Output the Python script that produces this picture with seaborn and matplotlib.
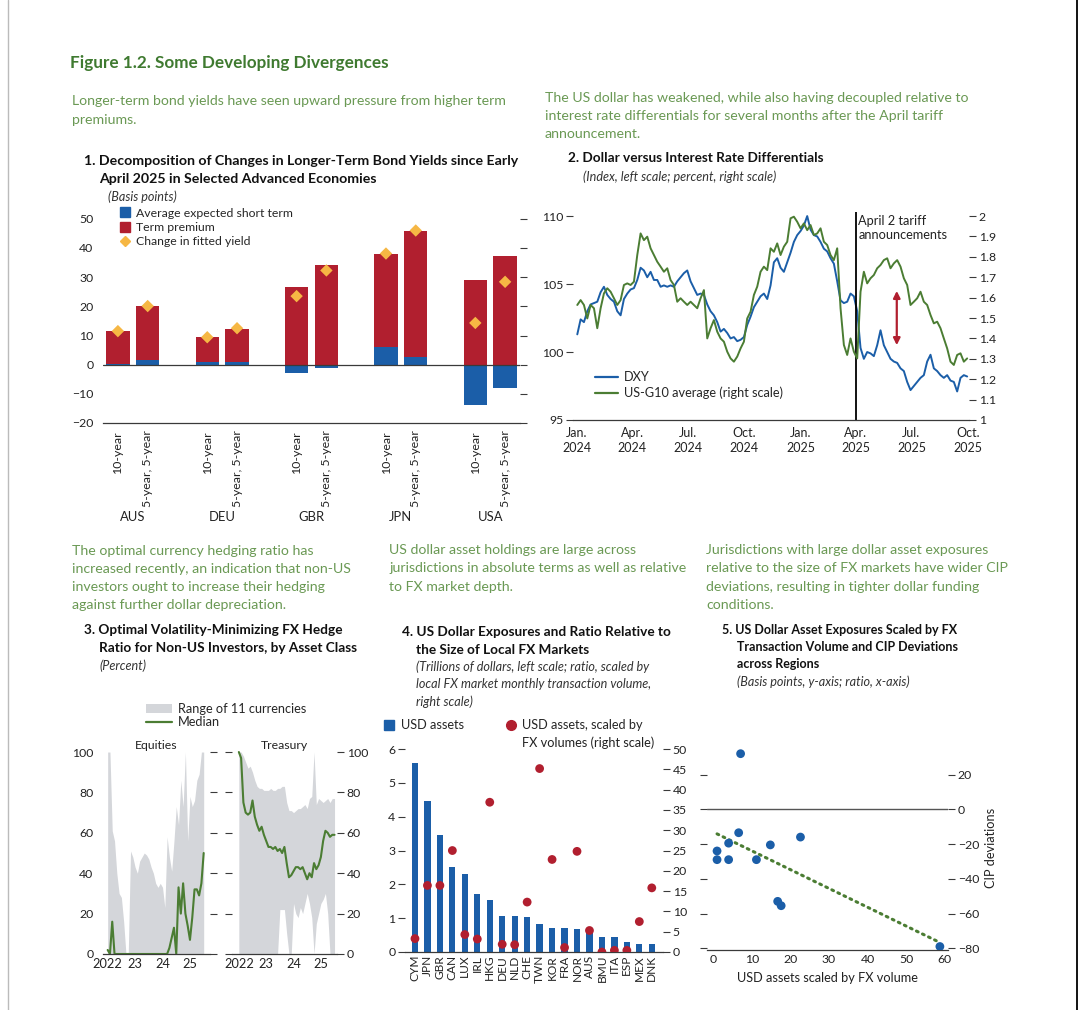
import numpy as np
import pandas as pd
import matplotlib
matplotlib.use('Agg')
import matplotlib.pyplot as plt
import seaborn as sns
from matplotlib.lines import Line2D
from matplotlib.patches import Patch

sns.set_theme(style='white')
FONT = ['Lato', 'DejaVu Sans']
plt.rcParams['font.family'] = FONT
plt.rcParams['axes.unicode_minus'] = True

# ---------------- DATA ----------------
# Panel 1
p1_groups = ['AUS', 'DEU', 'GBR', 'JPN', 'USA']
p1_maturities = ['10-year', '5-year, 5-year']
p1_short = [0.3, 1.5, 0.8, 0.8, -2.9, -1.2, 5.9, 2.6, -13.7, -8.1]
p1_term = [11.2, 18.7, 8.7, 11.5, 26.6, 34.1, 32.2, 43.4, 29.0, 37.4]
p1_fitted = [11.5, 20.1, 9.4, 12.5, 23.5, 32.3, 38.1, 46.0, 14.3, 28.4]

# Panel 2 (sampled evenly from 2 Jan 2024 to 30 Sep 2025)
p2_dxy = [101.3, 102.4, 102.2, 103.0, 103.5, 103.6, 103.7, 104.4, 104.8, 104.2,
          103.9, 103.7, 103.0, 102.7, 103.9, 104.3, 104.6, 104.7, 105.3, 106.2,
          106.0, 105.5, 105.9, 105.3, 105.3, 104.8, 104.9, 104.8, 104.9, 104.8,
          105.2, 105.5, 105.8, 106.0, 105.2, 104.7, 104.2, 104.3, 104.2, 103.5,
          103.0, 102.7, 102.2, 101.5, 101.7, 101.4, 101.0, 101.1, 100.8, 100.9,
          101.1, 102.0, 102.6, 103.3, 103.7, 104.1, 104.3, 103.9, 104.9,
          106.6, 106.9, 106.2, 105.9, 106.6, 107.3, 108.1, 108.6, 108.9, 109.3,
          110.0, 109.0, 108.6, 108.5, 108.1, 107.6, 107.4, 106.9, 106.5, 105.2,
          103.8, 103.6, 103.7, 104.3, 104.1, 103.0, 100.3, 99.5, 100.0, 99.9,
          99.7, 100.5, 101.6, 100.5, 100.0, 99.5, 99.3, 99.2, 98.8, 98.6,
          97.8, 97.2, 97.5, 97.8, 98.1, 98.3, 99.3, 99.8, 98.8, 98.6,
          98.3, 98.1, 98.3, 97.9, 97.8, 97.1, 98.1, 98.3, 98.2]
p2_g10 = [1.564, 1.588, 1.564, 1.498, 1.564, 1.548, 1.450, 1.548, 1.621, 1.646,
          1.629, 1.597, 1.564, 1.588, 1.662, 1.670, 1.662, 1.678, 1.809, 1.915,
          1.882, 1.899, 1.842, 1.809, 1.776, 1.752, 1.727, 1.744, 1.686, 1.662,
          1.580, 1.597, 1.580, 1.564, 1.580, 1.564, 1.548, 1.597, 1.637, 1.400,
          1.450, 1.490, 1.433, 1.400, 1.384, 1.335, 1.302, 1.286, 1.311, 1.351,
          1.384, 1.498, 1.531, 1.613, 1.654, 1.727, 1.752, 1.735, 1.842,
          1.825, 1.866, 1.809, 1.850, 1.874, 1.989, 1.997, 1.972, 1.940, 1.964,
          1.931, 1.956, 1.907, 1.915, 1.940, 1.874, 1.858, 1.809, 1.784, 1.842,
          1.548, 1.368, 1.319, 1.400, 1.335, 1.302, 1.629, 1.727, 1.670, 1.695,
          1.711, 1.744, 1.760, 1.784, 1.793, 1.744, 1.768, 1.784, 1.752, 1.695,
          1.662, 1.564, 1.580, 1.597, 1.629, 1.580, 1.564, 1.515, 1.474, 1.482,
          1.450, 1.400, 1.351, 1.286, 1.270, 1.319, 1.327, 1.286, 1.302]
p2_xticks = ['2024-01-01', '2024-04-01', '2024-07-01', '2024-10-01',
             '2025-01-01', '2025-04-01', '2025-07-01', '2025-10-01']
p2_xlabels = ['Jan.\n2024', 'Apr.\n2024', 'Jul.\n2024', 'Oct.\n2024',
              'Jan.\n2025', 'Apr.\n2025', 'Jul.\n2025', 'Oct.\n2025']

# Panel 3 (monthly, Jan 2022 - Jul 2025)
p3_eq_upper = [100, 100, 61, 56, 40, 30, 28, 16, 0, 0, 51, 48, 43, 40, 46, 48, 50, 49,
               47, 43, 40, 35, 33, 35, 33, 23, 58, 48, 41, 56, 73, 64, 86, 73, 100,
               56, 78, 73, 76, 86, 89, 100, 100]
p3_eq_lower = [0] * 43
p3_eq_median = [2, 0, 16, 0, 0, 0, 0, 0, 0, 0, 0, 0, 0, 0, 0, 0, 0, 0, 0, 0, 0, 0, 0,
                0, 0, 0, 0, 3, 8, 13, 0, 33, 20, 35, 20, 14, 7, 18, 32, 32, 29, 35, 50]
p3_tr_upper = [100, 100, 98, 95, 92, 93, 90, 86, 83, 82, 82, 81, 81, 81, 82, 81, 81, 82,
               82, 83, 83, 75, 71, 71, 70, 71, 72, 72, 73, 74, 72, 77, 78, 100, 74,
               77, 76, 75, 76, 77, 75, 77, 77]
p3_tr_lower = [0, 0, 0, 0, 0, 0, 0, 0, 0, 0, 0, 0, 0, 0, 0, 0, 0, 0, 22, 22, 22, 10,
               0, 0, 25, 20, 18, 23, 20, 25, 30, 25, 18, 0, 15, 20, 25, 27, 30, 20,
               0, 0, 0]
p3_tr_median = [100, 97, 75, 70, 69, 70, 76, 68, 64, 61, 63, 59, 56, 53, 53, 52, 53, 51,
                52, 50, 53, 45, 38, 39, 41, 43, 43, 42, 43, 40, 37, 40, 38, 45, 42,
                44, 48, 56, 61, 60, 58, 59, 59]
p3_years = ['2022', '23', '24', '25']

# Panel 4
p4_countries = ['CYM', 'JPN', 'GBR', 'CAN', 'LUX', 'IRL', 'HKG', 'DEU', 'NLD', 'CHE',
                'TWN', 'KOR', 'FRA', 'NOR', 'AUS', 'BMU', 'ITA', 'ESP', 'MEX', 'DNK']
p4_usd_assets = [5.6, 4.46, 3.46, 2.5, 2.3, 1.72, 1.54, 1.07, 1.05, 1.03,
                 0.83, 0.71, 0.71, 0.68, 0.61, 0.44, 0.44, 0.30, 0.24, 0.24]
p4_scaled = [3.3, 16.4, 16.4, 25.0, 4.3, 3.2, 36.9, 1.9, 1.8, 12.3,
             45.2, 22.8, 1.1, 24.8, 5.3, 0.0, 0.4, 0.4, 7.5, 15.8]

# Panel 5
p5_x = [7.1, 1.0, 1.0, 4.0, 4.0, 6.6, 11.2, 14.8, 22.6, 16.7, 17.6, 58.7]
p5_y = [32, -24, -29, -19.5, -29, -13.5, -29, -20.5, -16, -53, -55.5, -79]

# ---------------- STYLE ----------------
BLUE = '#1b5ea8'
RED = '#b11f2f'
GOLD = '#f6b744'
GREEN = '#4b7d33'
GRAY = '#d4d6da'
AX = '#3a3a3a'
TITLEGREEN = '#3f7a30'
INTROGREEN = '#6a9954'
TS = 8.8       # tick / legend text
IS = 10.2      # intro text
BS = 9.8       # bold panel titles
ITS = 9.1      # italic units

W, H = 1090, 1010
fig = plt.figure(figsize=(W / 100, H / 100), dpi=100)


def ax_px(l, t, r, b):
    return fig.add_axes([l / W, 1 - b / H, (r - l) / W, (b - t) / H])


def T(x, y, s, **kw):
    kw.setdefault('va', 'center')
    kw.setdefault('ha', 'left')
    return fig.text(x / W, 1 - y / H, s, **kw)


def style(ax):
    for s in ['top', 'left', 'right']:
        ax.spines[s].set_visible(False)
    ax.spines['bottom'].set_color(AX)
    ax.spines['bottom'].set_linewidth(0.9)
    ax.set_facecolor('none')
    ax.tick_params(axis='y', direction='out', length=5, width=0.8, color=AX,
                   labelsize=TS, pad=2, labelcolor='#222')
    ax.tick_params(axis='x', direction='in', length=4, width=0.8, color=AX,
                   labelsize=TS, pad=3, labelcolor='#222')
    ax.grid(False)


# ---------------- TEXTS ----------------
T(70, 63, 'Figure 1.2. Some Developing Divergences', fontsize=12.3, fontweight='bold', color=TITLEGREEN)
T(72, 101, 'Longer-term bond yields have seen upward pressure from higher term', fontsize=IS, color=INTROGREEN)
T(72, 120, 'premiums.', fontsize=IS, color=INTROGREEN)
for i, s in enumerate(['The US dollar has weakened, while also having decoupled relative to',
                       'interest rate differentials for several months after the April tariff',
                       'announcement.']):
    T(545, 98 + 18 * i, s, fontsize=IS, color=INTROGREEN)
T(84, 161, '1. Decomposition of Changes in Longer-Term Bond Yields since Early', fontsize=10.2, fontweight='bold', color='#111')
T(99, 179, 'April 2025 in Selected Advanced Economies', fontsize=10.2, fontweight='bold', color='#111')
T(108, 197, '(Basis points)', fontsize=ITS, style='italic', color='#333')
T(568, 158, '2. Dollar versus Interest Rate Differentials', fontsize=BS, fontweight='bold', color='#111')
T(583, 177, '(Index, left scale; percent, right scale)', fontsize=ITS, style='italic', color='#333')

for i, s in enumerate(['The optimal currency hedging ratio has',
                       'increased recently, an indication that non-US',
                       'investors ought to increase their hedging',
                       'against further dollar depreciation.']):
    T(72, 551 + 18 * i, s, fontsize=IS, color=INTROGREEN)
T(84, 630, '3. Optimal Volatility-Minimizing FX Hedge', fontsize=BS, fontweight='bold', color='#111')
T(99, 648, 'Ratio for Non-US Investors, by Asset Class', fontsize=BS, fontweight='bold', color='#111')
T(99, 666, '(Percent)', fontsize=ITS, style='italic', color='#333')

for i, s in enumerate(['US dollar asset holdings are large across',
                       'jurisdictions in absolute terms as well as relative',
                       'to FX market depth.']):
    T(389, 550 + 18.5 * i, s, fontsize=IS, color=INTROGREEN)
T(402, 632, '4. US Dollar Exposures and Ratio Relative to', fontsize=BS, fontweight='bold', color='#111')
T(416, 650, 'the Size of Local FX Markets', fontsize=BS, fontweight='bold', color='#111')
for i, s in enumerate(['(Trillions of dollars, left scale; ratio, scaled by',
                       'local FX market monthly transaction volume,',
                       'right scale)']):
    T(416, 667 + 17.5 * i, s, fontsize=ITS, style='italic', color='#333')

for i, s in enumerate(['Jurisdictions with large dollar asset exposures',
                       'relative to the size of FX markets have wider CIP',
                       'deviations, resulting in tighter dollar funding',
                       'conditions.']):
    T(706, 550 + 18.3 * i, s, fontsize=IS, color=INTROGREEN)
T(722, 630, '5. US Dollar Asset Exposures Scaled by FX', fontsize=9.0, fontweight='bold', color='#111')
T(737, 647, 'Transaction Volume and CIP Deviations', fontsize=9.0, fontweight='bold', color='#111')
T(737, 664, 'across Regions', fontsize=9.0, fontweight='bold', color='#111')
T(737, 682, '(Basis points, y-axis; ratio, x-axis)', fontsize=ITS, style='italic', color='#333')

# page borders
fig.add_artist(Line2D([1077 / W, 1077 / W], [0, 1], color='black', lw=1.3, transform=fig.transFigure))
fig.add_artist(Line2D([8 / W, 8 / W], [0, 1], color='#bbbbbb', lw=1.0, transform=fig.transFigure))

# ---------------- PANEL 1 ----------------
ax1 = ax_px(103, 213, 520, 423)
pos = []
for g in range(len(p1_groups)):
    for j in range(len(p1_maturities)):
        pos.append(g * 3 + j)
pos = np.array(pos, dtype=float)
short = np.array(p1_short)
red_top = np.array(p1_term) + np.clip(short, 0, None)
sns.barplot(x=pos, y=red_top, native_scale=True, color=RED, width=0.78, saturation=1,
            errorbar=None, linewidth=0, ax=ax1)
sns.barplot(x=pos, y=short, native_scale=True, color=BLUE, width=0.78, saturation=1,
            errorbar=None, linewidth=0, ax=ax1)
sns.scatterplot(x=pos, y=p1_fitted, marker='D', s=40, color=GOLD, edgecolor='none', ax=ax1, zorder=5)
ax1.axhline(0, color=AX, lw=0.9, zorder=4)
style(ax1)
ax1.set_xlim(-0.5, 13.5)
ax1.set_ylim(-20, 52)
ax1.set_yticks(np.arange(-20, 51, 10))
ax1.tick_params(axis='y', right=True, labelright=False)
ax1.set_xticks(pos)
ax1.set_xticklabels(p1_maturities * len(p1_groups), rotation=90, fontsize=8.9)
ax1.tick_params(axis='x', which='major', length=0, pad=5)
ax1.set_xticks(np.arange(-0.5, 13.6, 1), minor=True)
ax1.tick_params(axis='x', which='minor', direction='in', length=5, width=0.8, color=AX)
for g, name in enumerate(p1_groups):
    ax1.text(g * 3 + 0.5, -0.45, name, transform=ax1.get_xaxis_transform(), ha='center',
             va='center', fontsize=9.4, color='#222')
ax1.set_xlabel('')
h1 = [Line2D([], [], marker='s', ls='none', color=BLUE, markersize=6.5),
      Line2D([], [], marker='s', ls='none', color=RED, markersize=6.5),
      Line2D([], [], marker='D', ls='none', color=GOLD, markersize=5.5)]
ax1.legend(h1, ['Average expected short term', 'Term premium', 'Change in fitted yield'],
           loc='upper left', bbox_to_anchor=(0.04, 1.025), frameon=False, fontsize=TS,
           handlelength=0.8, handletextpad=0.5, labelspacing=0.25, borderaxespad=0, borderpad=0)

# ---------------- PANEL 2 ----------------
ax2 = ax_px(573, 212, 969, 420)
dates = pd.date_range('2024-01-02', '2025-09-30', periods=len(p2_dxy))
sns.lineplot(x=dates, y=p2_dxy, color=BLUE, lw=1.4, ax=ax2)
ax2r = ax2.twinx()
sns.lineplot(x=dates, y=p2_g10, color=GREEN, lw=1.4, ax=ax2r)
style(ax2)
style(ax2r)
ax2.set_ylim(95, 110.3)
ax2r.set_ylim(1, 1 + 15.3 / 15)
ax2.set_yticks([95, 100, 105, 110])
rt = np.round(np.arange(1, 2.01, 0.1), 1)
ax2r.set_yticks(rt)
ax2r.set_yticklabels([f'{v:g}' for v in rt])
ax2.set_xlim(pd.Timestamp('2023-12-26'), pd.Timestamp('2025-10-03'))
ax2.set_xticks(pd.to_datetime(p2_xticks))
ax2.set_xticklabels(p2_xlabels, linespacing=1.3, fontsize=9.0)
ax2.tick_params(axis='x', pad=5)
ax2r.spines['bottom'].set_visible(False)
apr2 = pd.Timestamp('2025-04-02')
ax2.axvline(apr2, color='black', lw=1.3)
ax2.text(pd.Timestamp('2025-04-05'), 110.1, 'April 2 tariff\nannouncements', va='top', ha='left',
         fontsize=9.2, color='#222', linespacing=1.25)
ax2r.annotate('', xy=(pd.Timestamp('2025-06-07'), 1 + (104.7 - 95) / 15),
              xytext=(pd.Timestamp('2025-06-07'), 1 + (100.3 - 95) / 15),
              arrowprops=dict(arrowstyle='<|-|>', color=RED, lw=1.6, mutation_scale=10))
ax2.set_xlabel('')
h2 = [Line2D([], [], color=BLUE, lw=1.6), Line2D([], [], color=GREEN, lw=1.6)]
ax2r.legend(h2, ['DXY', 'US-G10 average (right scale)'], loc='lower left',
            bbox_to_anchor=(0.055, 0.1), frameon=False, fontsize=9.2, handlelength=1.8,
            handletextpad=0.5, labelspacing=0.25, borderaxespad=0, borderpad=0)

# ---------------- PANEL 3 ----------------
yrs = 2022 + np.arange(len(p3_eq_median)) / 12
ax3a = ax_px(103, 750, 210, 954)
ax3b = ax_px(232, 750, 337, 954)
for ax, lo, up, med, xl, lab in [(ax3a, p3_eq_lower, p3_eq_upper, p3_eq_median, (2021.83, 2025.73), 'Equities'),
                                 (ax3b, p3_tr_lower, p3_tr_upper, p3_tr_median, (2021.75, 2025.59), 'Treasury')]:
    ax.fill_between(yrs, lo, up, color=GRAY, lw=0)
    sns.lineplot(x=yrs, y=med, color=GREEN, lw=1.5, ax=ax)
    style(ax)
    ax.set_xlim(*xl)
    ax.set_ylim(0, 101)
    ax.set_yticks(np.arange(0, 101, 20))
    ax.set_xticks([2022, 2023, 2024, 2025])
    ax.set_xticklabels(p3_years, fontsize=9.2)
    ax.text(0.5, 1.02, lab, transform=ax.transAxes, ha='center', va='center', fontsize=TS, color='#222')
ax3a.tick_params(axis='y', right=True, labelright=False)
ax3b.tick_params(axis='y', left=True, right=True, labelleft=False, labelright=True)
h3 = [Patch(facecolor=GRAY, edgecolor='none'), Line2D([], [], color=GREEN, lw=1.6)]
fig.legend(h3, ['Range of 11 currencies', 'Median'], loc='upper left',
           bbox_to_anchor=(146 / W, 1 - 703 / H), frameon=False, fontsize=9.2,
           handlelength=2.0, handleheight=0.8, handletextpad=0.5, labelspacing=0.1,
           borderaxespad=0, borderpad=0)

# ---------------- PANEL 4 ----------------
ax4 = ax_px(405, 744, 663, 952)
sns.barplot(x=p4_countries, y=p4_usd_assets, color=BLUE, width=0.5, saturation=1,
            errorbar=None, linewidth=0, ax=ax4)
ax4r = ax4.twinx()
sns.scatterplot(x=np.arange(len(p4_countries)), y=p4_scaled, color=RED, s=40,
                edgecolor='none', ax=ax4r, zorder=5)
style(ax4)
style(ax4r)
ax4r.spines['bottom'].set_visible(False)
ax4.set_xlim(-0.8, 19.9)
ax4.set_ylim(0, 6.15)
ax4r.set_ylim(0, 6.15 * 50 / 6)
ax4.set_yticks(range(0, 7))
ax4r.set_yticks(range(0, 51, 5))
ax4.set_xticks(range(len(p4_countries)))
ax4.set_xticklabels(p4_countries, rotation=90, fontsize=8.6)
ax4.tick_params(axis='x', length=3, pad=2)
h4 = [Line2D([], [], marker='s', ls='none', color=BLUE, markersize=6.5),
      Line2D([], [], marker='o', ls='none', color=RED, markersize=7)]
fig.legend(h4, ['USD assets', 'USD assets, scaled by'], loc='upper left', ncol=2,
           bbox_to_anchor=(384 / W, 1 - 719 / H), frameon=False, fontsize=9.2,
           handlelength=0.8, handletextpad=0.5, columnspacing=3.3, borderaxespad=0, borderpad=0)
T(522, 743, 'FX volumes (right scale)', fontsize=9.2, color='#222')

# ---------------- PANEL 5 ----------------
ax5 = ax_px(707, 745, 948, 950)
sns.regplot(x=np.array(p5_x), y=np.array(p5_y), scatter=False, ci=None, ax=ax5,
            line_kws=dict(color=GREEN, lw=2.2, ls=(0, (0.6, 1.6)), dash_capstyle='round'))
sns.scatterplot(x=p5_x, y=p5_y, color=BLUE, s=40, edgecolor='none', ax=ax5, zorder=5)
ax5.axhline(0, color='#555', lw=1.0)
style(ax5)
ax5.set_xlim(-1.6, 60.8)
ax5.set_ylim(-81, 37)
ax5.set_yticks([20, 0, -20, -40, -60, -80])
ax5.tick_params(axis='y', left=True, right=True, labelleft=False, labelright=True)
ax5.yaxis.set_label_position('right')
ax5.set_ylabel('CIP deviations', fontsize=9.2, color='#222', labelpad=4)
ax5.set_xticks(range(0, 61, 10))
ax5.set_xlabel('USD assets scaled by FX volume', fontsize=9.2, color='#222', labelpad=5)

fig.savefig('out.png', dpi=100, facecolor='white')
